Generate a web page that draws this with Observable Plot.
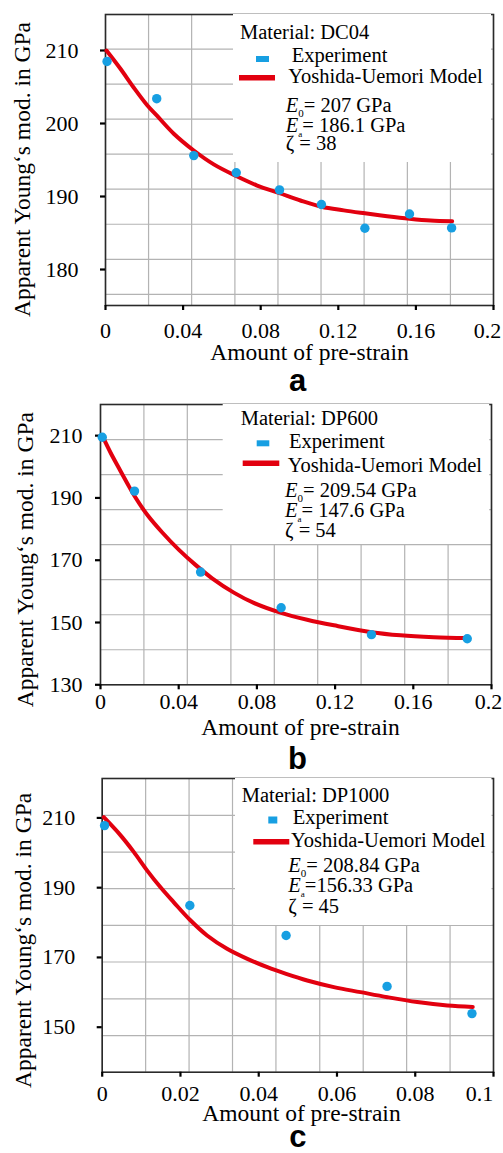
<!DOCTYPE html>
<html><head><meta charset="utf-8">
<script src="https://cdn.jsdelivr.net/npm/d3@7"></script>
<script src="https://cdn.jsdelivr.net/npm/@observablehq/plot@0.6"></script>
<style>
body{margin:0;background:#fff;}
#chart{width:503px;}
#chart svg{display:block;}
</style></head><body><div id="chart"></div>
<script>
// ---------- Panel a: DC04 ----------
const strainA = [0.0008, 0.0264, 0.0455, 0.0674, 0.0897, 0.1113, 0.1337, 0.1567, 0.1784];
const modulusA = [208.5, 203.4, 195.6, 193.25, 190.9, 188.9, 185.65, 187.6, 185.7];
const modelStrainA = [0.0005, 0.0077, 0.0146, 0.0215, 0.0264, 0.0352, 0.0455, 0.0558, 0.0674, 0.0782, 0.0897, 0.1005, 0.1113, 0.1228, 0.1337, 0.1452, 0.1567, 0.1675, 0.1787];
const modelModulusA = [210.0, 207.5, 204.9, 202.5, 201.1, 198.6, 196.3, 194.4, 192.8, 191.5, 190.45, 189.45, 188.6, 188.1, 187.7, 187.3, 186.95, 186.7, 186.6];
const xTicksA = [0, 0.04, 0.08, 0.12, 0.16, 0.2];
const xTickLabelsA = ["0", "0.04", "0.08", "0.12", "0.16", "0.2"];
const yTicksA = [180, 190, 200, 210];
const gridXA = [0, 0.0222, 0.0444, 0.0667, 0.0889, 0.1111, 0.1333, 0.1556, 0.1778, 0.2];
const gridYA = [210.2, 205.4, 200.6, 195.8, 191.0, 186.2, 181.4, 176.6];
const paramsA = [["0", "= 207 GPa"], ["a", "= 186.1 GPa"], ["ζ", " = 38"]];

// ---------- Panel b: DP600 ----------
const strainB = [0.0009, 0.0174, 0.0512, 0.0924, 0.1386, 0.1876];
const modulusB = [209.5, 192.2, 166.2, 154.75, 146.1, 144.8];
const modelStrainB = [0.0009, 0.0051, 0.0094, 0.0136, 0.0174, 0.0239, 0.0316, 0.040, 0.0486, 0.0571, 0.0682, 0.0784, 0.0924, 0.1057, 0.1194, 0.1386, 0.1535, 0.1705, 0.1876];
const modelModulusB = [210.0, 204.6, 199.6, 194.8, 190.6, 184.6, 178.9, 173.4, 168.5, 164.2, 159.6, 156.3, 153.1, 150.9, 149.1, 146.9, 145.9, 145.3, 145.0];
const xTicksB = [0, 0.04, 0.08, 0.12, 0.16, 0.2];
const xTickLabelsB = ["0", "0.04", "0.08", "0.12", "0.16", "0.2"];
const yTicksB = [130, 150, 170, 190, 210];
const gridXB = [0, 0.0222, 0.0444, 0.0667, 0.0889, 0.1111, 0.1333, 0.1556, 0.1778, 0.2];
const gridYB = [141.25, 152.5, 163.75, 175, 186.25, 197.5, 208.75];
const paramsB = [["0", "= 209.54 GPa"], ["a", "= 147.6 GPa"], ["ζ", " = 54"]];

// ---------- Panel c: DP1000 ----------
const strainC = [0.0006, 0.0224, 0.047, 0.0728, 0.0945];
const modulusC = [207.8, 184.9, 176.3, 161.7, 153.9];
const modelStrainC = [0.0004, 0.0047, 0.0081, 0.0115, 0.0149, 0.0183, 0.0224, 0.0268, 0.0319, 0.0371, 0.0422, 0.047, 0.0524, 0.0592, 0.066, 0.0729, 0.0805, 0.0882, 0.0947];
const modelModulusC = [210.2, 205.0, 200.2, 194.9, 190.1, 185.8, 180.8, 176.3, 172.5, 169.6, 167.2, 165.3, 163.4, 161.5, 160.05, 158.6, 157.2, 156.2, 155.8];
const xTicksC = [0, 0.02, 0.04, 0.06, 0.08, 0.1];
const xTickLabelsC = ["0", "0.02", "0.04", "0.06", "0.08", "0.1"];
const yTicksC = [150, 170, 190, 210];
const gridXC = [0, 0.0111, 0.0222, 0.0333, 0.0444, 0.0556, 0.0667, 0.0778, 0.0889, 0.1];
const gridYC = [147.6, 158.1, 168.7, 179.2, 189.7, 200.2, 210.7];
const paramsC = [["0", "= 208.84 GPa"], ["a", "=156.33 GPa"], ["ζ", " = 45"]];

const materials = ["Material: DC04", "Material: DP600", "Material: DP1000"];
const panelLetters = ["a", "b", "c"];
const xTitle = "Amount of pre-strain";
const yTitle = "Apparent Young‘s mod. in GPa";
const legendLabels = ["Experiment", "Yoshida-Uemori Model"];

const BLUE = "#179fe2";
const RED = "#e2000f";
const GRID = "#b3b3b3";
const SERIF = "'Liberation Serif', 'Times New Roman', serif";
const SANS = "'Liberation Sans', Arial, sans-serif";

const panels = [
  {strain: strainA, modulus: modulusA, mStrain: modelStrainA, mModulus: modelModulusA,
   xTicks: xTicksA, xLabels: xTickLabelsA, yTicks: yTicksA, gridX: gridXA, gridY: gridYA,
   xDomain: [0, 0.2], yDomain: [175.07, 214.93], params: paramsA, material: materials[0], letter: panelLetters[0],
   height: 400, mt: 14, mb: 95, ml: 105, mr: 10, xPad: 12, yPad: 22, lastDx: -6,
   xtDx: 10, xtDy: 46.7, ytDx: -83.3, ytDy: 9.5, letDx: -2, letDy: 75.5,
   leg: {box: [233, 14, 258, 148], mat: [240, 39.3], mark: [256, 56, 13, 6], exp: [291.7, 62.3], line: [239, 275, 77.7], mod: [288.3, 83.3], px: 285.7, pb: [111.7, 131.7, 150]}},
  {strain: strainB, modulus: modulusB, mStrain: modelStrainB, mModulus: modelModulusB,
   xTicks: xTicksB, xLabels: xTickLabelsB, yTicks: yTicksB, gridX: gridXB, gridY: gridYB,
   xDomain: [0, 0.2], yDomain: [130, 220], params: paramsB, material: materials[1], letter: panelLetters[1],
   height: 377, mt: 4, mb: 92.7, ml: 100, mr: 12, xPad: 4, yPad: 13, lastDx: -3,
   xtDx: 4.5, xtDy: 42.4, ytDx: -75, ytDy: 15, letDx: 1.5, letDy: 74.5,
   leg: {box: [222.7, 4, 266.5, 140], mat: [240.7, 25], mark: [256.7, 40.3, 12.6, 6], exp: [289, 48.3], line: [242.7, 279.3, 63.3], mod: [287.7, 71.7], px: 285, pb: [96.7, 116.7, 136.7]}},
  {strain: strainC, modulus: modulusC, mStrain: modelStrainC, mModulus: modelModulusC,
   xTicks: xTicksC, xLabels: xTickLabelsC, yTicks: yTicksC, gridX: gridXC, gridY: gridYC,
   xDomain: [0, 0.1], yDomain: [137.1, 221.3], params: paramsC, material: materials[2], letter: panelLetters[2],
   height: 376, mt: 1, mb: 81.3, ml: 101.7, mr: 10, xPad: 8, yPad: 22, lastDx: -14,
   xtDx: 3.6, xtDy: 41.6, ytDx: -79.2, ytDy: 15, letDx: 0, letDy: 65,
   leg: {box: [235, 1, 256.5, 147], mat: [241.7, 24.7], mark: [268.3, 39.5, 9, 7], exp: [292.7, 47.3], line: [253.3, 289.3, 64.7], mod: [291, 69.7], px: 288.3, pb: [94.7, 114.7, 136.3]}}
];

const chart = document.getElementById("chart");

for (const p of panels) {
  const pts = p.strain.map((x, i) => ({x, y: p.modulus[i]}));
  const model = p.mStrain.map((x, i) => ({x, y: p.mModulus[i]}));
  const nLast = p.xTicks.length - 1;
  const svg = Plot.plot({
    width: 503, height: p.height,
    marginTop: p.mt, marginBottom: p.mb, marginLeft: p.ml, marginRight: p.mr,
    style: {background: "#fff", fontFamily: SERIF, color: "#000"},
    x: {domain: p.xDomain},
    y: {domain: p.yDomain},
    marks: [
      Plot.ruleX(p.gridX, {stroke: GRID, strokeWidth: 1.2}),
      Plot.ruleY(p.gridY, {stroke: GRID, strokeWidth: 1.2}),
      Plot.frame({stroke: "#2a2a2a", strokeWidth: 1.6}),
      Plot.axisX({ticks: p.xTicks, tickFormat: d => { const i = p.xTicks.indexOf(d); return i === nLast ? "" : p.xLabels[i]; }, tickSize: 5, tickPadding: p.xPad, fontSize: 22, fontFamily: SERIF, strokeWidth: 2.2, label: null}),
      Plot.axisX({ticks: [p.xTicks[nLast]], tickFormat: () => p.xLabels[nLast], tickSize: 0, tickPadding: p.xPad + 5, dx: p.lastDx, fontSize: 22, fontFamily: SERIF, label: null}),
      Plot.axisY({ticks: p.yTicks, tickFormat: d => String(d), tickSize: 5, tickPadding: p.yPad, fontSize: 22, fontFamily: SERIF, strokeWidth: 2.2, label: null}),
      Plot.line(model, {x: "x", y: "y", stroke: RED, strokeWidth: 4, curve: "catmull-rom"}),
      Plot.dot(pts, {x: "x", y: "y", r: 4.7, fill: BLUE}),
      Plot.text([xTitle], {text: d => d, frameAnchor: "bottom", textAnchor: "middle", lineAnchor: "middle", dx: p.xtDx, dy: p.xtDy, fontSize: 23.5, fontFamily: SERIF, fill: "#000"}),
      Plot.text([yTitle], {text: d => d, frameAnchor: "left", textAnchor: "middle", lineAnchor: "middle", rotate: -90, dx: p.ytDx, dy: p.ytDy, fontSize: 23.5, fontFamily: SERIF, fill: "#000"}),
      Plot.text([p.letter], {text: d => d, frameAnchor: "bottom", textAnchor: "middle", lineAnchor: "middle", dx: p.letDx, dy: p.letDy, fontSize: 31, fontWeight: "bold", fontFamily: SANS, fill: "#000"})
    ]
  });

  // Legend box (drawn on top of grid, inside the plot's svg)
  const L = p.leg;
  const g = d3.select(svg).append("g").attr("font-family", SERIF).attr("font-size", 20.5).attr("fill", "#000").attr("text-anchor", "start");
  g.append("rect").attr("x", L.box[0]).attr("y", L.box[1]).attr("width", L.box[2]).attr("height", L.box[3]).attr("fill", "#fff");
  g.append("text").attr("x", L.mat[0]).attr("y", L.mat[1]).text(p.material);
  g.append("rect").attr("x", L.mark[0]).attr("y", L.mark[1]).attr("width", L.mark[2]).attr("height", L.mark[3]).attr("fill", BLUE);
  g.append("text").attr("x", L.exp[0]).attr("y", L.exp[1]).text(legendLabels[0]);
  g.append("line").attr("x1", L.line[0]).attr("x2", L.line[1]).attr("y1", L.line[2]).attr("y2", L.line[2]).attr("stroke", RED).attr("stroke-width", 5.5);
  g.append("text").attr("x", L.mod[0]).attr("y", L.mod[1]).text(legendLabels[1]);
  p.params.forEach((pr, i) => {
    const t = g.append("text").attr("x", L.px).attr("y", L.pb[i]);
    if (pr[0] === "ζ") {
      t.append("tspan").text("ζ");
      t.append("tspan").text(pr[1]);
    } else {
      t.append("tspan").attr("font-style", "italic").text("E");
      t.append("tspan").attr("font-size", pr[0] === "a" ? 9 : 11).attr("dy", 5).text(pr[0]);
      t.append("tspan").attr("dy", -5).text(pr[1]);
    }
  });

  chart.appendChild(svg);
}
</script>
</body></html>
